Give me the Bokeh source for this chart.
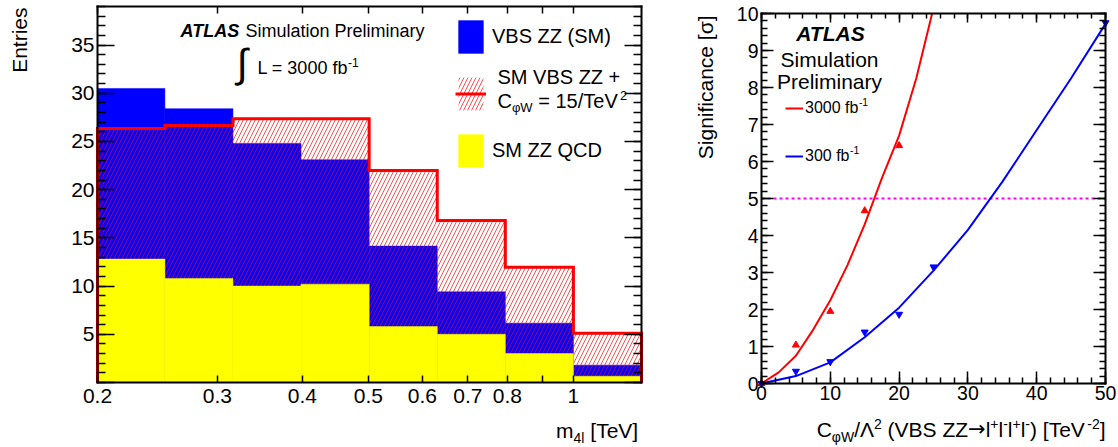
import math
from bokeh.plotting import figure
from bokeh.layouts import row
from bokeh.models import (Range1d, LinearAxis, LogAxis, FixedTicker, SingleIntervalTicker,
                          Label, Legend, LegendItem)
from bokeh.embed import file_html
from bokeh.resources import INLINE

FONT = "Liberation Sans"

# ---------------- data: left panel (m4l distribution) ----------------
bin_edges = [0.2, 0.2512, 0.3162, 0.3981, 0.5012, 0.6310, 0.7943, 1.0, 1.2589]
zz_qcd = [12.8, 10.8, 10.0, 10.2, 5.8, 5.0, 3.0, 0.65]
vbs_sm = [17.7, 17.6, 14.8, 12.9, 8.35, 4.4, 3.15, 1.15]
vbs_cphiw15 = [26.35, 26.65, 27.35, 27.35, 22.0, 16.8, 11.95, 5.1]
m4l_ticks = [0.2, 0.3, 0.4, 0.5, 0.6, 0.7, 0.8, 0.9, 1.0]
m4l_tick_labels = ["0.2", "0.3", "0.4", "0.5", "0.6", "0.7", "0.8", "", "1"]
entries_max = 39.0

# ---------------- data: right panel (significance) ----------------
pts_3000_x = [0, 5, 10, 15, 20]
pts_3000_y = [0.0, 1.04, 1.95, 4.67, 6.43]
pts_300_x = [0, 5, 10, 15, 20, 25, 50]
pts_300_y = [0.0, 0.33, 0.59, 1.39, 1.87, 3.15, 9.75]
fit_3000_x = [0, 2.5, 5, 7.5, 10, 12.5, 15, 17.5, 20, 22.5, 24.8]
fit_3000_y = [0.0, 0.3, 0.75, 1.45, 2.25, 3.2, 4.3, 5.55, 6.7, 8.25, 10.0]
fit_300_x = [0, 5, 10, 15, 20, 25, 30, 35, 40, 45, 50]
fit_300_y = [0.0, 0.2, 0.57, 1.25, 2.05, 3.05, 4.15, 5.45, 6.85, 8.25, 9.72]
cphiw_range = [0, 50]
sig_range = [0, 10]
discovery_sigma = 5

# ---------------- text layout helpers (Arial / Liberation Sans metrics) ----------------
W = {' ': 278, '!': 278, '(': 333, ')': 333, '+': 584, '-': 333, '.': 278, '/': 278, '=': 584,
     '[': 278, ']': 278, 'φ': 650, 'Λ': 667, 'σ': 600, '→': 838, '∫': 274}
for ch in "0123456789":
    W[ch] = 556
W.update(dict(zip("ABCDEFGHIJKLMNOPQRSTUVWXYZ",
                  [667, 667, 722, 722, 667, 611, 778, 722, 278, 500, 667, 556, 833, 722, 778, 667, 778,
                   722, 667, 611, 722, 667, 944, 667, 667, 611])))
W.update(dict(zip("abcdefghijklmnopqrstuvwxyz",
                  [556, 556, 500, 556, 556, 278, 556, 556, 222, 222, 500, 222, 833, 556, 556, 556, 556,
                   333, 500, 278, 556, 500, 722, 500, 500, 500])))

H = 447          # canvas height (page px)
BASE_FIX = 0.43  # em offset between requested and drawn baseline


def tw(s, size):
    return sum(W.get(c, 556) for c in s) * size / 1000.0


def put(fig, ox, x, y, segs, align="left"):
    """Place a run of text segments at page position (x, baseline y).
    ox: page x of the figure canvas. segs: (text, size, rise, style[, font])."""
    total = sum(tw(sg[0], sg[1]) for sg in segs)
    if align == "right":
        x -= total
    elif align == "center":
        x -= total / 2.0
    for sg in segs:
        t, s, r, st = sg[:4]
        font = sg[4] if len(sg) > 4 else FONT
        lead = len(t) - len(t.lstrip(" "))
        fig.add_layout(Label(x=x + tw(" " * lead, s) - ox, y=H - y + r + BASE_FIX * s,
                             x_units="screen", y_units="screen", text=t.strip(" "),
                             text_font=font, text_font_size=f"{s}px", text_font_style=st,
                             text_baseline="alphabetic", text_align="left", text_color="black"))
        x += tw(t, s)


def vlabel(fig, ox, x, y_top, text, size):
    fig.add_layout(Label(x=x - ox - BASE_FIX * size, y=H - y_top, x_units="screen", y_units="screen",
                         text=text, angle=math.pi / 2, text_align="right",
                         text_baseline="alphabetic", text_font=FONT,
                         text_font_size=f"{size}px", text_color="black"))


def style_axis(ax, tin, minin, size=None, standoff=0):
    ax.axis_line_color = "black"
    ax.axis_line_width = 2
    ax.axis_line_cap = "square"
    ax.major_tick_in = tin
    ax.major_tick_out = 0
    ax.minor_tick_in = minin
    ax.minor_tick_out = 0
    ax.major_tick_line_color = "black"
    ax.minor_tick_line_color = "black"
    ax.major_tick_line_width = 1.5
    ax.minor_tick_line_width = 1.5
    ax.major_label_text_font = FONT
    if size is None:
        ax.major_label_text_color = None
    else:
        ax.major_label_text_color = "black"
        ax.major_label_text_font_size = size
        ax.major_label_standoff = standoff


def make_fig(width, box, xlo, xhi, ylo, yhi, log_x=False):
    """box = (left, right, top, bottom) of the plot box in canvas px; the frame is the
    whole canvas and the ranges are extended so that the box maps onto the data limits."""
    L, R, T, B = box
    if log_x:
        a, b = math.log10(xlo), math.log10(xhi)
        k = (b - a) / (R - L)
        xr = Range1d(10 ** (a - L * k), 10 ** (b + (width - R) * k))
    else:
        k = (xhi - xlo) / (R - L)
        xr = Range1d(xlo - L * k, xhi + (width - R) * k)
    ky = (yhi - ylo) / (B - T)
    yr = Range1d(ylo - (H - B) * ky, yhi + T * ky)
    p = figure(width=width, height=H, x_range=xr, y_range=yr,
               x_axis_type="log" if log_x else "linear",
               x_axis_location=None, y_axis_location=None,
               output_backend="svg", toolbar_location=None, min_border=0)
    p.grid.visible = False
    p.outline_line_color = None
    p.background_fill_color = "white"
    p.border_fill_color = "white"
    return p


# ================= left figure =================
OX1, W1 = 0, 690
xlo, xhi = bin_edges[0], bin_edges[-1]
p1 = make_fig(W1, (97, 641, 6, 382), xlo, xhi, 0, entries_max, log_x=True)

ax_b = LogAxis(fixed_location=0, bounds=(xlo, xhi),
               ticker=FixedTicker(ticks=m4l_ticks, minor_ticks=[]))
ax_b.major_label_overrides = dict(zip(m4l_ticks, m4l_tick_labels))
style_axis(ax_b, 7, 0, "21px", 6)
p1.add_layout(ax_b, "below")
ax_t = LogAxis(fixed_location=entries_max, bounds=(xlo, xhi),
               ticker=FixedTicker(ticks=m4l_ticks, minor_ticks=[]))
style_axis(ax_t, 7, 0)
p1.add_layout(ax_t, "above")
ax_l = LinearAxis(fixed_location=xlo, bounds=(0, entries_max),
                  ticker=SingleIntervalTicker(interval=5, num_minor_ticks=5))
ax_l.major_label_overrides = {0: ""}
style_axis(ax_l, 17, 8, "21px", 3)
p1.add_layout(ax_l, "left")
ax_r = LinearAxis(fixed_location=xhi, bounds=(0, entries_max),
                  ticker=SingleIntervalTicker(interval=5, num_minor_ticks=5))
style_axis(ax_r, 17, 8)
p1.add_layout(ax_r, "right")

lefts = bin_edges[:-1]
rights = bin_edges[1:]
stack_top = [q + v for q, v in zip(zz_qcd, vbs_sm)]
r_blue = p1.quad(left=lefts, right=rights, bottom=0, top=stack_top,
                 fill_color="#0000FF", line_color="#0000FF", line_width=0.5)
r_hatch = p1.quad(left=lefts, right=rights, bottom=0, top=vbs_cphiw15,
                  fill_color=None, line_color=None, hatch_pattern="/",
                  hatch_color="#FF0000", hatch_scale=8, hatch_weight=0.7)
r_yellow = p1.quad(left=lefts, right=rights, bottom=0, top=zz_qcd,
                   fill_color="#FFFF00", line_color="#FFFF00", line_width=0.5)
sx, sy = [bin_edges[0]], [0.0]
for i, v in enumerate(vbs_cphiw15):
    sx += [bin_edges[i], bin_edges[i + 1]]
    sy += [v, v]
sx.append(bin_edges[-1])
sy.append(0.0)
r_out = p1.line(sx, sy, line_color="#FF0000", line_width=3, line_join="miter")

leg1 = Legend(items=[LegendItem(label="VBS ZZ (SM)", renderers=[r_blue]),
                     LegendItem(label=" ", renderers=[r_hatch, r_out]),
                     LegendItem(label="SM ZZ QCD", renderers=[r_yellow])],
              location=(455 - OX1, H - 171), glyph_width=31, glyph_height=41,
              spacing=16, label_standoff=6, padding=0, margin=0,
              border_line_color=None, background_fill_alpha=0,
              label_text_font=FONT, label_text_font_size="20px", label_text_color="black")
p1.add_layout(leg1)

put(p1, OX1, 497, 85, [("SM VBS ZZ +", 20, 0, "normal")])
put(p1, OX1, 497, 109, [("C", 20, 0, "normal"), ("φW", 13, -4, "normal"),
                         (" = 15/TeV", 20, 0, "normal"), ("2", 13, 8, "normal")])
put(p1, OX1, 180, 38, [("ATLAS", 18, 0, "bold italic")])
put(p1, OX1, 245, 38, [("Simulation Preliminary", 18, 0, "normal")])
put(p1, OX1, 236, 80, [("∫", 40, 0, "normal")])
put(p1, OX1, 257, 75, [("L = 3000 fb", 18, 0, "normal"), ("-1", 12, 8, "normal")])
put(p1, OX1, 640, 439, [("m", 21, 0, "normal"), ("4l", 14, -4.5, "normal"),
                         (" [TeV]", 21, 0, "normal")], align="right")
vlabel(p1, OX1, 28, 7, "Entries", 21)

# ================= right figure =================
OX2, W2 = 690, 428
p2 = make_fig(W2, (761 - OX2, 1105 - OX2, 13, 383),
              cphiw_range[0], cphiw_range[1], sig_range[0], sig_range[1])

bx = LinearAxis(fixed_location=sig_range[0], bounds=tuple(cphiw_range),
                ticker=SingleIntervalTicker(interval=10, num_minor_ticks=5))
style_axis(bx, 12, 6, "19.5px", 2)
p2.add_layout(bx, "below")
tx = LinearAxis(fixed_location=sig_range[1], bounds=tuple(cphiw_range),
                ticker=SingleIntervalTicker(interval=10, num_minor_ticks=5))
style_axis(tx, 9, 5)
p2.add_layout(tx, "above")
ly = LinearAxis(fixed_location=cphiw_range[0], bounds=tuple(sig_range),
                ticker=SingleIntervalTicker(interval=1, num_minor_ticks=5))
style_axis(ly, 12, 6, "19.5px", 3)
p2.add_layout(ly, "left")
ry = LinearAxis(fixed_location=cphiw_range[1], bounds=tuple(sig_range),
                ticker=SingleIntervalTicker(interval=1, num_minor_ticks=5))
style_axis(ry, 12, 6)
p2.add_layout(ry, "right")

p2.line(cphiw_range, [discovery_sigma, discovery_sigma], line_color="#FF00FF",
        line_width=2, line_dash="3 3")
r_f3000 = p2.line(fit_3000_x, fit_3000_y, line_color="#FF0000", line_width=2)
r_f300 = p2.line(fit_300_x, fit_300_y, line_color="#0000FF", line_width=2)
p2.scatter(pts_3000_x, pts_3000_y, marker="triangle", size=7,
           fill_color="#FF0000", line_color="#FF0000")
p2.scatter(pts_300_x, pts_300_y, marker="inverted_triangle", size=7,
           fill_color="#0000FF", line_color="#0000FF")

leg2 = Legend(items=[LegendItem(label="3000 fb", renderers=[r_f3000]),
                     LegendItem(label="300 fb", renderers=[r_f300])],
              location=(785 - OX2, H - 166), glyph_width=18, glyph_height=20,
              spacing=28, label_standoff=2, padding=0, margin=0,
              border_line_color=None, background_fill_alpha=0,
              label_text_font=FONT, label_text_font_size="16px", label_text_color="black")
p2.add_layout(leg2)
put(p2, OX2, 805 + tw("3000 fb", 16), 106, [("-1", 10.5, 0, "normal")])
put(p2, OX2, 805 + tw("300 fb", 16), 154, [("-1", 10.5, 0, "normal")])

put(p2, OX2, 829, 42.5, [("ATLAS", 21, 0, "bold italic")], align="center")
put(p2, OX2, 829, 68.5, [("Simulation", 21, 0, "normal")], align="center")
put(p2, OX2, 829, 90, [("Preliminary", 21, 0, "normal")], align="center")

put(p2, OX2, 1105, 438,
    [("C", 21, 0, "normal"), ("φW", 14, -5, "normal"), ("/Λ", 21, 0, "normal"), ("2", 14, 8, "normal"),
     (" (VBS ZZ", 21, 0, "normal"), ("→", 21, 0, "normal", "DejaVu Sans"), ("l", 21, 0, "normal"),
     ("+", 14, 8, "normal"), ("l", 21, 0, "normal"),
     ("-", 14, 8, "normal"), ("l", 21, 0, "normal"), ("+", 14, 8, "normal"), ("l", 21, 0, "normal"),
     ("-", 14, 8, "normal"), (") [TeV", 21, 0, "normal"), ("-2", 14, 8, "normal"),
     ("]", 21, 0, "normal")], align="right")
vlabel(p2, OX2, 714, 15, "Significance [σ]", 21)

layout = row(p1, p2)
open("out.html", "w").write(file_html(layout, INLINE))
